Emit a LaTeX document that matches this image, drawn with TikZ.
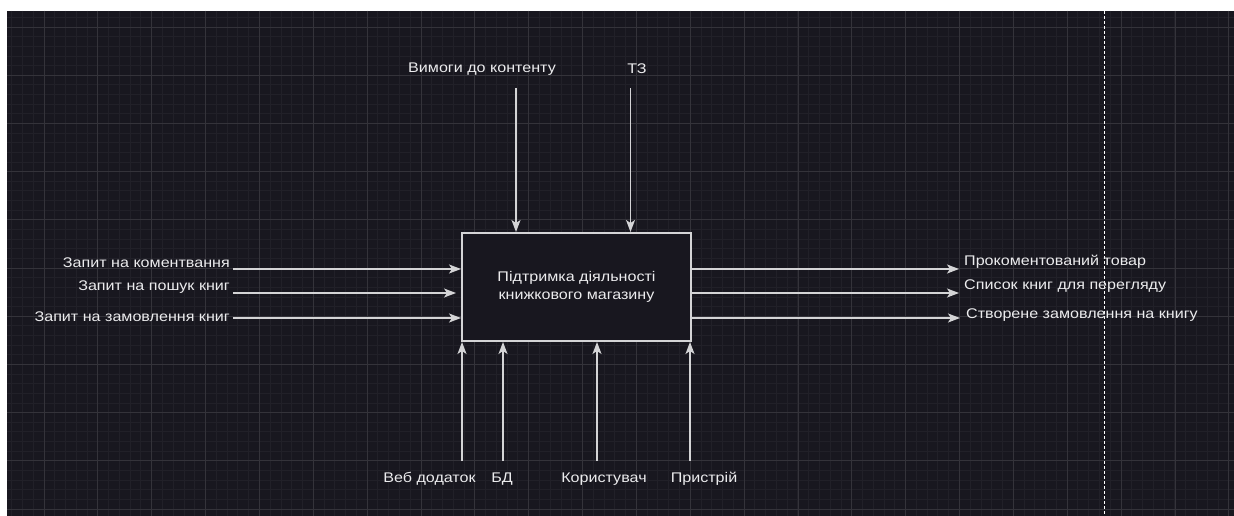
\documentclass[tikz,border=0pt]{standalone}
\usepackage{fontspec}
\setmainfont[FakeStretch=1.15]{Liberation Sans}
\usetikzlibrary{arrows.meta, positioning, calc}

\definecolor{canvas}{RGB}{24,23,31}
\definecolor{gridminor}{RGB}{33,32,40}
\definecolor{gridmajor}{RGB}{52,51,58}
\definecolor{wire}{RGB}{212,212,214}
\definecolor{ink}{RGB}{236,236,238}

\begin{document}
\begin{tikzpicture}[
    x=1pt, y=-1pt,
    font=\fontsize{14}{16}\selectfont,
    activity/.style={
        draw=wire,
        fill=canvas,
        line width=2pt,
        minimum width=229pt,
        minimum height=108pt,
        align=center,
        text=ink,
        font=\fontsize{14}{18}\selectfont
    },
    flow/.style={
        draw=wire,
        line width=1.5pt,
        -{Stealth[length=12pt,width=9pt,inset=3pt,fill=wire]}
    },
    lbl/.style={
        text=ink,
        inner sep=0pt
    },
    fine/.style={
        line width=0.9pt
    }
]

\useasboundingbox (0,0) rectangle (1234,516);

% --- CANVAS AND GRID ------------------------------------------

\fill[white] (0,0) rectangle (1234,516);
\fill[canvas] (7,11) rectangle (1234,516);

\foreach \i in {0,...,113}
    \draw[fine, gridminor] ({11.7+10.77*\i},11) -- ({11.7+10.77*\i},516);
\foreach \j in {0,...,51}
    \draw[fine, gridminor] (7,{17.4+9.64*\j}) -- (1234,{17.4+9.64*\j});
\foreach \i in {0,...,22}
    \draw[fine, gridmajor] ({44+53.86*\i},11) -- ({44+53.86*\i},516);
\foreach \j in {0,...,10}
    \draw[fine, gridmajor] (7,{27+48.2*\j}) -- (1234,{27+48.2*\j});

% page edge marker
\draw[white, line width=1pt, dash pattern=on 3pt off 2pt] (1104,11) -- (1104,516);

% --- ACTIVITY BOX ---------------------------------------------

\node[activity] (box) at (576.5,287) {Підтримка діяльності\\книжкового магазину};

% --- CONTROLS (TOP) -------------------------------------------

\node[lbl] (ctrlA) at (482,69) {Вимоги до контенту};
\node[lbl] (ctrlB) at (637,69) {ТЗ};

\coordinate (c1) at (516,88);
\coordinate (c2) at (630.5,88);
\draw[flow] (c1) -- (c1 |- box.north);
\draw[flow] (c2) -- (c2 |- box.north);

% --- INPUTS (LEFT) --------------------------------------------

\node[lbl, anchor=east] (inA) at (230,263) {Запит на коментвання};
\node[lbl, anchor=east] (inB) at (230,287) {Запит на пошук книг};
\node[lbl, anchor=east] (inC) at (230,317) {Запит на замовлення книг};

\coordinate (i1) at (233,269);
\coordinate (i2) at (233,293);
\coordinate (i3) at (233,318);
\draw[flow] (i1) -- (i1 -| box.west);
\draw[flow, shorten >=5pt] (i2) -- (i2 -| box.west);
\draw[flow] (i3) -- (i3 -| box.west);

% --- OUTPUTS (RIGHT) ------------------------------------------

\coordinate (o1) at (959,269);
\coordinate (o2) at (959,293);
\coordinate (o3) at (960,318);
\draw[flow] (o1 -| box.east) -- (o1);
\draw[flow] (o2 -| box.east) -- (o2);
\draw[flow] (o3 -| box.east) -- (o3);

\node[lbl, anchor=west] (outA) at (964,262) {Прокоментований товар};
\node[lbl, anchor=west] (outB) at (964,286) {Список книг для перегляду};
\node[lbl, anchor=west] (outC) at (966,315) {Створене замовлення на книгу};

% --- MECHANISMS (BOTTOM) --------------------------------------

\coordinate (m1) at (462,461);
\coordinate (m2) at (503,461);
\coordinate (m3) at (597,461);
\coordinate (m4) at (690,461);
\draw[flow] (m1) -- (m1 |- box.south);
\draw[flow] (m2) -- (m2 |- box.south);
\draw[flow] (m3) -- (m3 |- box.south);
\draw[flow] (m4) -- (m4 |- box.south);

\node[lbl] (mechA) at (429.5,479) {Веб додаток};
\node[lbl] (mechB) at (502,479) {БД};
\node[lbl] (mechC) at (604,479) {Користувач};
\node[lbl] (mechD) at (704,479) {Пристрій};

\end{tikzpicture}
\end{document}
